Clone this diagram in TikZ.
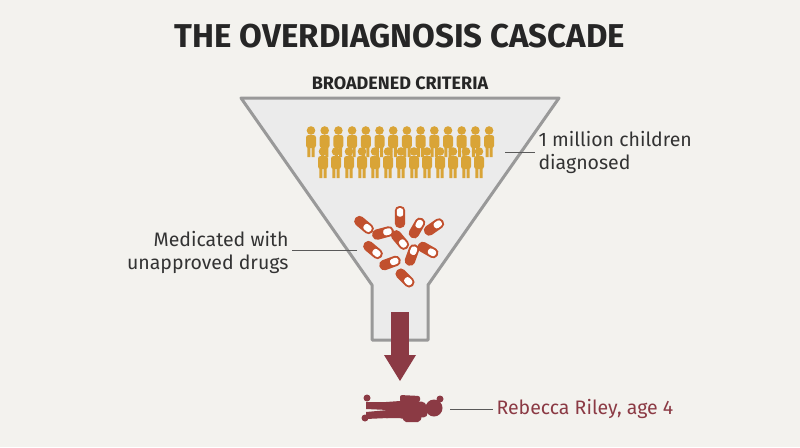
\documentclass[tikz,border=0pt]{standalone}
\usepackage{fontspec}
\setmainfont{Fira Sans}
\begin{document}
\begin{tikzpicture}[x=1pt,y=-1pt,
  lbl/.style={font=\fontsize{19.5}{23}\selectfont, text=black!80},
  leader/.style={draw=black!65, line width=0.8pt},
  kid/.pic={\fill[gold] (0,-10.5) circle (4.3);
    \fill[gold,rounded corners=2.5pt] (-5,-6) rectangle (5,7);
    \fill[gold] (-3.6,6) rectangle (-0.6,16) (0.6,6) rectangle (3.6,16);},
  pill/.pic={\fill[pillc,rounded corners=4.6pt] (-11,-5.2) rectangle (11,5.2);
    \fill[white,rounded corners=2.5pt] (0.4,-3.2) rectangle (8.8,3.2);}]
\definecolor{gold}{HTML}{D9A437}
\definecolor{pillc}{HTML}{C1502E}
\definecolor{maroon}{HTML}{8B3A44}
\fill[fill={rgb,255:red,243;green,242;blue,238}] (0,0) rectangle (800,447);
\node[font=\bfseries\fontsize{33}{38}\selectfont, text=black!85] (title) at (400,36) {THE OVERDIAGNOSIS CASCADE};
\node[font=\bfseries\fontsize{18}{21}\selectfont, text=black!85] (crit) at (400,83) {BROADENED CRITERIA};
\draw[line width=3pt, draw=black!40, fill=black!8, line join=round] (241,98) -- (559,98) -- (428,285) -- (428,340) -- (372,340) -- (372,285) -- cycle;
\foreach \i in {0,...,13} \pic at (311+13.7*\i,141) {kid};
\foreach \i in {0,...,12} \pic at (323+13*\i,162) {kid};
\foreach \x/\y/\a in {364/225/-40, 383/233/15, 400/217/90, 417/228/60, 434/227/35, 400/240/-50, 373/250/-40, 412/255/70, 428/250/-30, 390/263/20, 405/278/-45}
  \pic[rotate=\a] at (\x,\y) {pill};
\fill[maroon] (391,312) rectangle (409,356);
\fill[maroon] (384,355) -- (416,355) -- (400,381) -- cycle;
\begin{scope}[maroon]
\fill (434,408) circle (8.5);
\fill (440,399) circle (3.5);
\fill[rounded corners=4pt] (398,400) -- (426,402) -- (428,417) -- (398,419) -- cycle;
\fill (400,401) -- (386,402) -- (386,418) -- (400,418) -- cycle;
\fill (388,402) -- (366,402) -- (366,409) -- (388,410) -- cycle;
\fill (388,410) -- (366,412) -- (366,419) -- (388,418) -- cycle;
\fill (367,398) circle (3.5) (365,418) circle (3.5);
\fill[rounded corners=2pt] (400,395) -- (420,396) -- (420,402) -- (400,402) -- cycle;
\fill[rounded corners=2pt] (402,416) -- (422,416) -- (420,422) -- (404,422) -- cycle;
\end{scope}
\coordinate (k1) at (505,152);
\node[lbl, align=left, anchor=west] (kids) at (535,152) {1 million children\\diagnosed};
\draw[leader] (k1) -- (k1 -| kids.west);
\coordinate (p1) at (357,250);
\node[lbl, align=right, anchor=east] (med) at (292,252) {Medicated with\\unapproved drugs};
\draw[leader] (p1) -- (p1 -| med.east);
\coordinate (g1) at (450,409);
\node[lbl, text=maroon, anchor=west] (reb) at (493,409) {Rebecca Riley, age 4};
\draw[leader] (g1) -- (g1 -| reb.west);
\end{tikzpicture}
\end{document}
